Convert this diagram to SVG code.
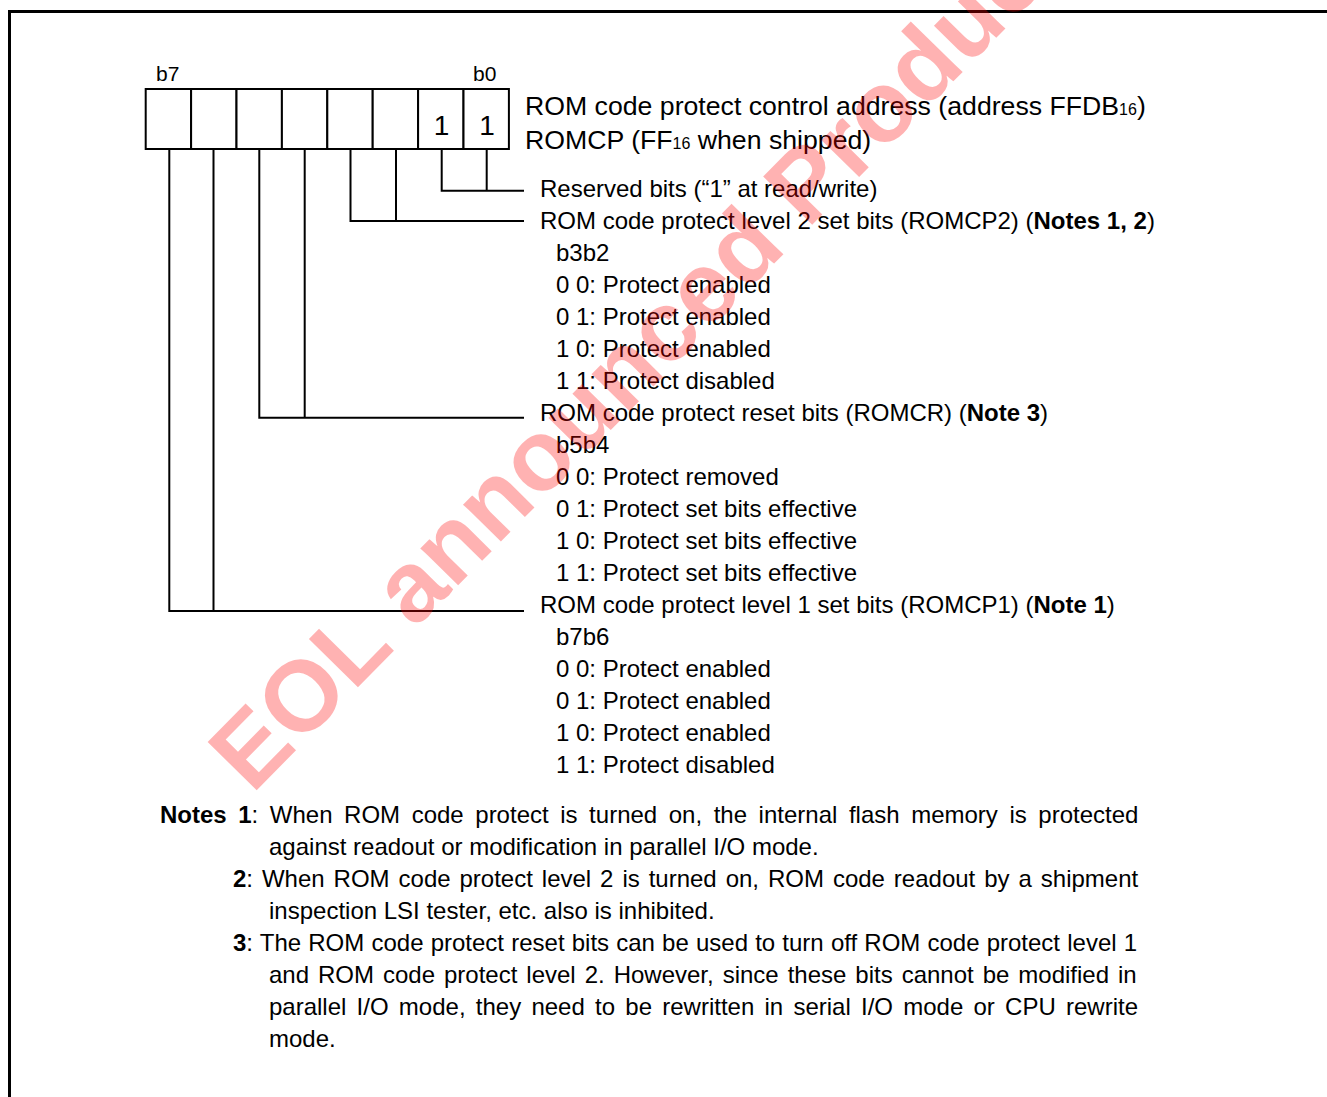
<svg xmlns="http://www.w3.org/2000/svg" width="1327" height="1097" viewBox="0 0 1327 1097">
<style>
text{font-family:"Liberation Sans",Arial,sans-serif;fill:#000}
.t{font-size:24px}
.h{font-size:26.67px}
.bit{font-size:21px}
.one{font-size:28px;text-anchor:middle}
.sub{font-size:16px}
.b{font-weight:bold}
.ln{stroke:#000;stroke-width:2;fill:none}
.cell{stroke:#000;stroke-width:2;fill:#fff}
.wm{font-family:"Liberation Sans",Arial,sans-serif;font-weight:bold;font-size:100px;fill:#f00;fill-opacity:0.3}
</style>
<rect x="0" y="0" width="1327" height="1097" fill="#fff"/>
<rect x="9.5" y="11.5" width="1340" height="1110" fill="none" stroke="#000" stroke-width="3"/>

<g id="register">
  <text class="bit" x="156" y="81">b7</text>
  <text class="bit" x="473" y="81">b0</text>
  <rect class="cell" x="145.7" y="89" width="45.4" height="60"/>
  <rect class="cell" x="191.1" y="89" width="45.4" height="60"/>
  <rect class="cell" x="236.5" y="89" width="45.4" height="60"/>
  <rect class="cell" x="281.9" y="89" width="45.4" height="60"/>
  <rect class="cell" x="327.3" y="89" width="45.4" height="60"/>
  <rect class="cell" x="372.7" y="89" width="45.4" height="60"/>
  <rect class="cell" x="418.1" y="89" width="45.4" height="60"/>
  <rect class="cell" x="463.5" y="89" width="45.4" height="60"/>
  <text class="one" x="441.5" y="135">1</text>
  <text class="one" x="487" y="135">1</text>
</g>

<g id="title">
  <text class="h" x="525" y="115">ROM code protect control address (address FFDB<tspan class="sub">16</tspan>)</text>
  <text class="h" x="525" y="148.5">ROMCP (FF<tspan class="sub">16</tspan> when shipped)</text>
</g>

<g id="connectors">
  <path class="ln" d="M441.7,149 V190.7 H524 M486.7,149 V190.7"/>
  <path class="ln" d="M350.5,149 V221 H524 M396,149 V221"/>
  <path class="ln" d="M259.3,149 V417.7 H524 M304.7,149 V417.7"/>
  <path class="ln" d="M169.3,149 V611 H524 M213.5,149 V611"/>
</g>

<g id="reserved">
  <text class="t" x="540" y="196.5">Reserved bits (“1” at read/write)</text>
</g>

<g id="romcp2">
  <text class="t" x="540" y="228.5">ROM code protect level 2 set bits (ROMCP2) (<tspan class="b">Notes 1, 2</tspan>)</text>
  <text class="t" x="556" y="260.5">b3b2</text>
  <text class="t" x="556" y="292.5">0 0: Protect enabled</text>
  <text class="t" x="556" y="324.5">0 1: Protect enabled</text>
  <text class="t" x="556" y="356.5">1 0: Protect enabled</text>
  <text class="t" x="556" y="388.5">1 1: Protect disabled</text>
</g>

<g id="romcr">
  <text class="t" x="540" y="420.5">ROM code protect reset bits (ROMCR) (<tspan class="b">Note 3</tspan>)</text>
  <text class="t" x="556" y="452.5">b5b4</text>
  <text class="t" x="556" y="484.5">0 0: Protect removed</text>
  <text class="t" x="556" y="516.5">0 1: Protect set bits effective</text>
  <text class="t" x="556" y="548.5">1 0: Protect set bits effective</text>
  <text class="t" x="556" y="580.5">1 1: Protect set bits effective</text>
</g>

<g id="romcp1">
  <text class="t" x="540" y="612.5">ROM code protect level 1 set bits (ROMCP1) (<tspan class="b">Note 1</tspan>)</text>
  <text class="t" x="556" y="644.5">b7b6</text>
  <text class="t" x="556" y="676.5">0 0: Protect enabled</text>
  <text class="t" x="556" y="708.5">0 1: Protect enabled</text>
  <text class="t" x="556" y="740.5">1 0: Protect enabled</text>
  <text class="t" x="556" y="772.5">1 1: Protect disabled</text>
</g>

<g id="notes">
  <text class="t" x="160" y="822.5" word-spacing="4.9"><tspan class="b">Notes 1</tspan>: When ROM code protect is turned on, the internal flash memory is protected</text>
  <text class="t" x="269" y="854.5">against readout or modification in parallel I/O mode.</text>
  <text class="t" x="233" y="886.5" word-spacing="2.27"><tspan class="b">2</tspan>: When ROM code protect level 2 is turned on, ROM code readout by a shipment</text>
  <text class="t" x="269" y="918.5">inspection LSI tester, etc. also is inhibited.</text>
  <text class="t" x="233" y="950.5" word-spacing="0.5"><tspan class="b">3</tspan>: The ROM code protect reset bits can be used to turn off ROM code protect level 1</text>
  <text class="t" x="269" y="982.5" word-spacing="2.3">and ROM code protect level 2. However, since these bits cannot be modified in</text>
  <text class="t" x="269" y="1014.5" word-spacing="3.57">parallel I/O mode, they need to be rewritten in serial I/O mode or CPU rewrite</text>
  <text class="t" x="269" y="1046.5">mode.</text>
</g>

<g id="watermark">
  <text class="wm" transform="translate(252,795) rotate(-45.5)">EOL announced Product</text>
</g>
</svg>
